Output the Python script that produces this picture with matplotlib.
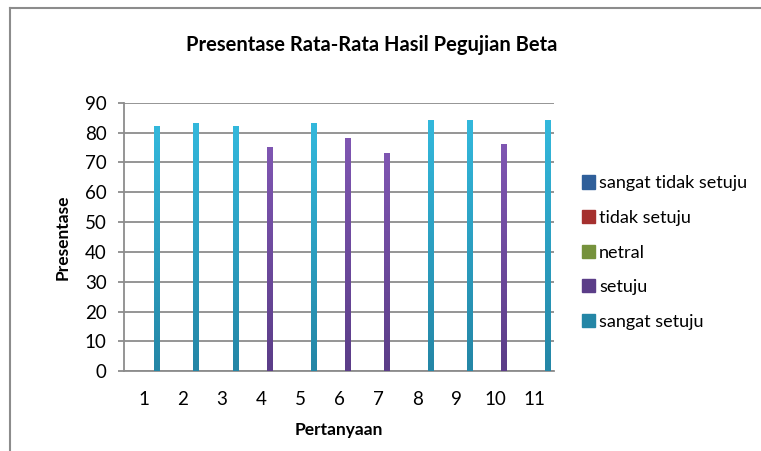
import numpy as np
import matplotlib.pyplot as plt
from matplotlib.colors import LinearSegmentedColormap
from matplotlib.lines import Line2D

plt.rcParams['font.family'] = ['Lato', 'DejaVu Sans']

# data
questions = ['1', '2', '3', '4', '5', '6', '7', '8', '9', '10', '11']
series_names = ['sangat tidak setuju', 'tidak setuju', 'netral', 'setuju', 'sangat setuju']
sangat_tidak_setuju = [0, 0, 0, 0, 0, 0, 0, 0, 0, 0, 0]
tidak_setuju = [0, 0, 0, 0, 0, 0, 0, 0, 0, 0, 0]
netral = [0, 0, 0, 0, 0, 0, 0, 0, 0, 0, 0]
setuju = [0, 0, 0, 75.2, 0, 78.3, 73.3, 0, 0, 76.1, 0]
sangat_setuju = [82.3, 83.2, 82.3, 0, 83.2, 0, 0, 84.1, 84.1, 0, 84.1]

# (top colour, bottom colour) per series
colors = [('#4F81BD', '#2F5F9A'), ('#D0413F', '#A5302E'), ('#9BBB59', '#76923C'),
          ('#7F56B2', '#5B3D88'), ('#33B8DC', '#2486A6')]

fig = plt.figure(figsize=(7.61, 4.51), dpi=100)
ax = fig.add_axes([0.163, 0.177, 0.565, 0.595])

x = np.arange(len(questions))
w = 0.13
all_series = [sangat_tidak_setuju, tidak_setuju, netral, setuju, sangat_setuju]
for i, (vals, name) in enumerate(zip(all_series, series_names)):
    top, bot = colors[i]
    bars = ax.bar(x - 0.18 + i * w, vals, width=w, color=top, label=name, zorder=3)
    cmap = LinearSegmentedColormap.from_list('g%d' % i, [bot, top])
    grad = np.linspace(0, 1, 100).reshape(-1, 1)
    for p in bars.patches:
        if p.get_height() <= 0:
            continue
        x0, y0 = p.get_x(), p.get_y()
        im = ax.imshow(grad, cmap=cmap, origin='lower', aspect='auto',
                       extent=(x0, x0 + p.get_width(), y0, y0 + p.get_height()), zorder=4)
        im.set_clip_path(p)

ax.set_xlim(-0.5, len(questions) - 0.5)
ax.set_ylim(0, 90)
ax.set_yticks(range(0, 91, 10))
ax.set_xticks(x)
ax.set_xticklabels(questions)
ax.yaxis.grid(True, color='#8c8c8c', linewidth=1.3, zorder=0)
ax.set_axisbelow(True)
for s in ['top', 'right']:
    ax.spines[s].set_visible(False)
ax.spines['left'].set_color('#8c8c8c')
ax.spines['bottom'].set_color('#8c8c8c')
ax.spines['left'].set_linewidth(1.3)
ax.spines['bottom'].set_linewidth(1.3)
ax.tick_params(axis='y', length=4.5, width=1.3, color='#8c8c8c', pad=8, labelsize=13.5)
ax.tick_params(axis='x', length=0, pad=14, labelsize=13.5)

ax.set_xlabel('Pertanyaan', fontsize=12.5, fontweight='bold', labelpad=10)
ax.set_ylabel('Presentase', fontsize=12.5, fontweight='bold', labelpad=10)
fig.text(0.488, 0.9, 'Presentase Rata-Rata Hasil Pegujian Beta', ha='center', va='center',
         fontsize=14.5, fontweight='bold')

handles = [plt.Rectangle((0, 0), 1, 1, color=c[1]) for c in colors]
fig.legend(handles, series_names, loc='center left', bbox_to_anchor=(0.755, 0.44),
           frameon=False, fontsize=13, handlelength=0.75, handleheight=0.75,
           handletextpad=0.2, labelspacing=1.03, borderaxespad=0)

# chart area border (only top and left visible in the crop)
fig.add_artist(Line2D([0.0135, 0.0135], [0, 0.982], transform=fig.transFigure,
                      color='#8c8c8c', linewidth=1.5))
fig.add_artist(Line2D([0.0135, 1.0], [0.982, 0.982], transform=fig.transFigure,
                      color='#8c8c8c', linewidth=1.5))

plt.savefig('out.png', dpi=100)
